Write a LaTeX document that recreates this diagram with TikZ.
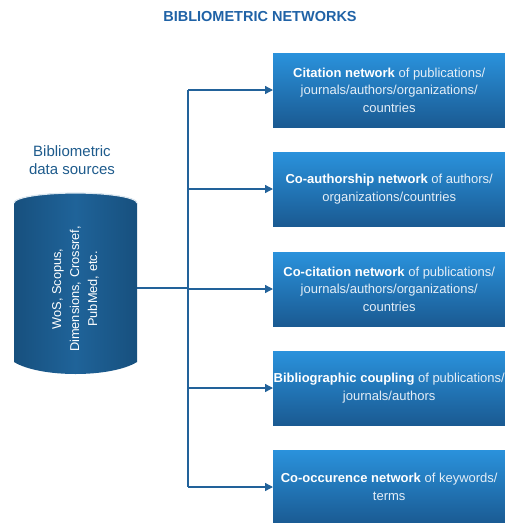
\documentclass[tikz,border=0pt]{standalone}
\usepackage{fontspec}
\setmainfont{Liberation Sans}
\usetikzlibrary{arrows.meta}
\definecolor{titleblue}{HTML}{1F62A6}
\definecolor{labelblue}{HTML}{1E5B8C}
\definecolor{linkblue}{HTML}{22629A}
\definecolor{boxtop}{HTML}{2A92DC}
\definecolor{boxbot}{HTML}{1A5A92}
\definecolor{cylside}{HTML}{17507E}
\definecolor{cylmid}{HTML}{1F6399}
\definecolor{softwhite}{HTML}{E4EEF7}
\tikzset{
  netbox/.style={rectangle, anchor=west, minimum width=232pt, minimum height=74pt,
    top color=boxtop, bottom color=boxbot, draw=none, inner sep=0pt,
    align=center, text=softwhite, font=\fontsize{13}{17.5}\selectfont},
  link/.style={draw=linkblue, line width=1.3pt},
  arrowlink/.style={link, -{Triangle[length=8pt,width=8pt]}},
}
\newcommand{\bw}[1]{\textbf{\color{white}#1}}
\begin{document}
\begin{tikzpicture}[x=1pt,y=-1pt]
\useasboundingbox (0,0) rectangle (505,523);
% title
\node[font=\bfseries\fontsize{14.5}{16}\selectfont, text=titleblue] (title) at (260,17) {BIBLIOMETRIC NETWORKS};
% label
\node[font=\fontsize{15}{18}\selectfont, text=labelblue, align=center] (lab) at (72,160) {Bibliometric\\data sources};
% cylinder
\path[left color=cylside, right color=cylside, middle color=cylmid]
  (14,203) -- (14,362) .. controls (40,378) and (111,378) .. (137,362)
  -- (137,203) arc[start angle=0, end angle=-180, x radius=61.5, y radius=10] -- cycle;
\path[left color=cylside, right color=cylside, middle color=cylmid]
  (75.5,203) ellipse[x radius=61.5, y radius=10];
\draw[white!85!cylmid, line width=1.2pt] (14,203) arc[start angle=180, end angle=0, x radius=61.5, y radius=-10];
\node[rotate=90, align=center, text=white, font=\fontsize{12.8}{18}\selectfont] (src) at (75.5,289)
  {WoS, Scopus,\\Dimensions, Crossref,\\PubMed, etc.};
\coordinate (cylout) at (137,288);
\coordinate (bus) at (188,288);
% boxes
\node[netbox] (n1) at (273,90) {\bw{Citation network} of publications/\\journals/authors/organizations/\\countries};
\node[netbox] (n2) at (273,189) {\bw{Co-authorship network} of authors/\\organizations/countries};
\node[netbox] (n3) at (273,289) {\bw{Co-citation network} of publications/\\journals/authors/organizations/\\countries};
\node[netbox] (n4) at (273,388) {\bw{Bibliographic coupling} of publications/\\journals/authors};
\node[netbox] (n5) at (273,487) {\bw{Co-occurence network} of keywords/\\terms};
% connectors
\coordinate (j1) at (188,90);
\coordinate (j2) at (188,189);
\coordinate (j3) at (188,289);
\coordinate (j4) at (188,388);
\coordinate (j5) at (188,487);
\draw[link] (cylout) -- (bus);
\draw[link] (j1) -- (j5);
\foreach \i in {1,...,5} \draw[arrowlink] (j\i) -- (n\i.west);
\end{tikzpicture}
\end{document}
